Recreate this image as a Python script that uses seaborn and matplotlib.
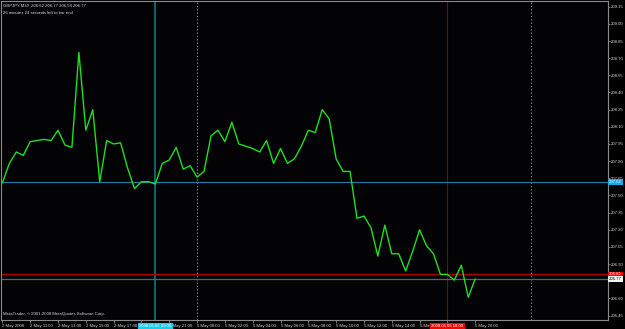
import numpy as np
import pandas as pd
import matplotlib
matplotlib.use('Agg')
import matplotlib.pyplot as plt
import seaborn as sns

# GBPJPY M30 close prices, 2 May 09:00 .. 5 May 20:00 (weekend skipped)
closes = [207.61, 207.78, 207.88, 207.85, 207.97, 207.98, 207.99, 207.98, 208.07, 207.94,
          207.92, 208.75, 208.07, 208.25, 207.62, 207.98, 207.95, 207.96, 207.74, 207.56,
          207.62, 207.62, 207.60, 207.78, 207.81, 207.92, 207.73, 207.76, 207.66, 207.71,
          208.02, 208.07, 207.97, 208.14, 207.95, 207.93, 207.91, 207.88, 207.98, 207.78,
          207.91, 207.78, 207.82, 207.93, 208.07, 208.05, 208.25, 208.17, 207.82, 207.71,
          207.71, 207.30, 207.32, 207.22, 206.97, 207.24, 206.99, 206.99, 206.84, 207.01,
          207.20, 207.06, 206.99, 206.81, 206.81, 206.76, 206.89, 206.61, 206.77]
friday_bars = pd.date_range('2008-05-02 09:00', '2008-05-02 22:30', freq='30min')
monday_bars = pd.date_range('2008-05-05 00:00', '2008-05-05 20:00', freq='30min')
times = list(friday_bars) + list(monday_bars)

xtick_times = ['2008-05-02 09:00', '2008-05-02 11:00', '2008-05-02 13:00', '2008-05-02 15:00',
               '2008-05-02 17:00', '2008-05-02 19:00', '2008-05-02 21:00', '2008-05-05 00:00',
               '2008-05-05 02:00', '2008-05-05 04:00', '2008-05-05 06:00', '2008-05-05 08:00',
               '2008-05-05 10:00', '2008-05-05 12:00', '2008-05-05 14:00', '2008-05-05 16:00',
               '2008-05-05 18:00', '2008-05-05 20:00']
# labels hidden under the crosshair boxes are left blank, as on the terminal
xtick_labels = ['2 May 2008', '2 May 11:00', '2 May 13:00', '2 May 15:00', '2 May 17:00',
                '', '2 May 21:00', '5 May 00:00', '5 May 02:00', '5 May 04:00',
                '5 May 06:00', '5 May 08:00', '5 May 10:00', '5 May 12:00', '5 May 14:00',
                '5 May 16:00', '', '5 May 20:00']

hline_cyan = 207.62
hline_red = 206.81
bid_price = 206.77
vline_cyan_time = '2008-05-02 20:00'
vline_red_time = '2008-05-05 18:00'
header = 'GBPJPY,M30  206.62 206.77 206.54 206.77'
countdown = '26 minutes 24 seconds left to bar end'
copyright_txt = 'MetaTrader, © 2001-2008 MetaQuotes Software Corp.'

df = pd.DataFrame({'bar': range(len(closes)), 'time': times, 'close': closes})
bar_of = {t: i for i, t in enumerate(df['time'])}


def bar_index(ts):
    ts = pd.Timestamp(ts)
    if ts in bar_of:
        return bar_of[ts]
    # future bar: count 30-min steps from last bar
    return len(times) - 1 + int((ts - times[-1]) / pd.Timedelta('30min'))


sns.set_style('dark')
plt.rcParams['font.family'] = ['Liberation Sans', 'DejaVu Sans']
fs = 3.1
txt_col = '#d8d8d8'
frame_col = '#8a8a8a'

fig = plt.figure(figsize=(6.25, 3.29), dpi=100, facecolor='black')
ax = fig.add_axes([0.0016, 0.027, 0.9712, 0.970])
ax.set_facecolor('#030306')

# day separators
for day in ['2008-05-05 00:00', '2008-05-06 00:00']:
    ax.axvline(bar_index(day), color='#b0b0b0', lw=0.6, ls=(0, (1.5, 2.5)), zorder=1)

ax.axvline(bar_index(vline_cyan_time), color='#0a7070', lw=1.3, zorder=1)
ax.axvline(bar_index(vline_red_time), color='#8a0000', lw=0.8, zorder=1)
ax.axhline(hline_cyan, color='#2080a8', lw=0.8, zorder=1)
ax.axhline(hline_red, color='#b00000', lw=0.9, zorder=1)
ax.axhline(bid_price, color='#5a6470', lw=0.9, zorder=1)

sns.lineplot(data=df, x='bar', y='close', color='#1ee01e', lw=1.0, ax=ax, zorder=3)

ax.set_xlim(-0.2, 87.1)
ax.set_ylim(206.41, 209.20)

yt = np.round(np.arange(206.45, 209.16, 0.15), 2)
ax.yaxis.tick_right()
ax.set_yticks(yt)
ax.set_yticklabels([f'{v:.2f}' if abs(v - bid_price) > 0.04 else '' for v in yt])
xt = [bar_index(t) for t in xtick_times]
ax.set_xticks(xt)
ax.set_xticklabels(xtick_labels, ha='left')
ax.tick_params(axis='y', colors=frame_col, labelcolor=txt_col, labelsize=fs,
               length=1.5, width=0.6, pad=0.8, right=True, left=False)
ax.tick_params(axis='x', colors=frame_col, labelcolor=txt_col, labelsize=fs,
               length=2, width=0.6, pad=1.0, bottom=True)
ax.set_xlabel('')
ax.set_ylabel('')
ax.grid(False)
for s in ax.spines.values():
    s.set_visible(True)
    s.set_color(frame_col)
    s.set_linewidth(0.8)

# price labels on the right scale
ytr = ax.get_yaxis_transform()
for price, face, tcol in [(hline_cyan, '#18a8e8', 'white'),
                          (hline_red, '#ff0000', 'white'),
                          (bid_price, '#f4f4f4', 'black')]:
    ax.text(1.002, price, f'{price:.2f}', transform=ytr, fontsize=fs, color=tcol,
            ha='left', va='center', zorder=10, clip_on=False,
            bbox=dict(boxstyle='square,pad=0.2', fc=face, ec='none'))

# time labels for the vertical lines
xtr = ax.get_xaxis_transform()
for ts, face in [(vline_cyan_time, '#10d0f0'), (vline_red_time, '#ff0000')]:
    stamp = pd.Timestamp(ts).strftime('%Y.%m.%d %H:%M')
    ax.text(bar_index(ts), -0.012, stamp, transform=xtr, fontsize=fs, color='white',
            ha='center', va='top', zorder=10, clip_on=False,
            bbox=dict(boxstyle='square,pad=0.3', fc=face, ec='none'))

ax.text(0.004, 0.992, header, transform=ax.transAxes, fontsize=fs, color=txt_col,
        ha='left', va='top')
ax.text(0.004, 0.970, countdown, transform=ax.transAxes, fontsize=fs, color=txt_col,
        ha='left', va='top')
ax.text(0.004, 0.012, copyright_txt, transform=ax.transAxes, fontsize=fs, color=txt_col,
        ha='left', va='bottom')

fig.savefig('out.png', dpi=100, facecolor='black')
